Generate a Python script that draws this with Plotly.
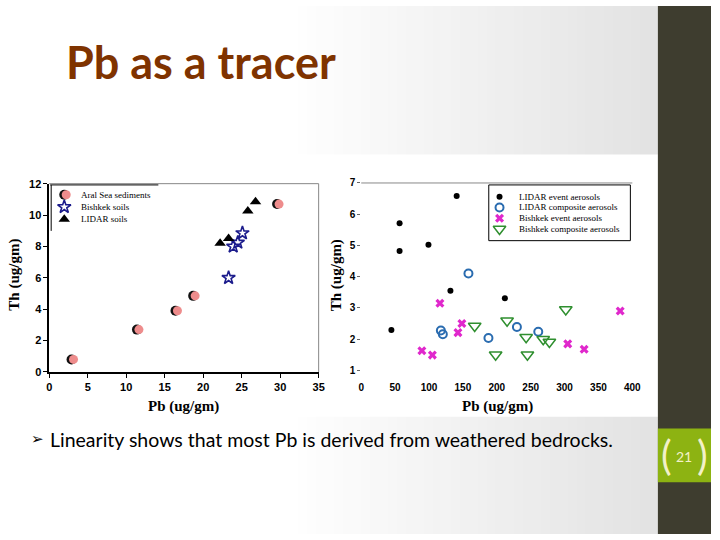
import plotly.graph_objects as go

# 左のグラフ: 土壌と堆積物
aral_pb = [2.9, 11.4, 16.4, 18.7, 29.6]
aral_th = [0.8, 2.7, 3.9, 4.85, 10.7]
bishkek_soil_pb = [23.3, 23.9, 24.5, 25.1]
bishkek_soil_th = [6.0, 8.0, 8.25, 8.85]
lidar_soil_pb = [22.2, 23.3, 25.8, 26.8]
lidar_soil_th = [8.2, 8.5, 10.25, 10.85]

# 右のグラフ: エアロゾル
lidar_event_pb = [44.5, 56.6, 56.6, 99.2, 131.6, 140.8, 211.9]
lidar_event_th = [2.29, 5.71, 4.82, 5.02, 3.55, 6.58, 3.31]
lidar_comp_pb = [117.5, 120.4, 158.2, 187.7, 229.7, 261.2]
lidar_comp_th = [2.28, 2.16, 4.10, 2.04, 2.39, 2.24]
bishkek_event_pb = [89.5, 105.0, 116.1, 142.7, 148.5, 304.7, 328.9, 382.1]
bishkek_event_th = [1.63, 1.49, 3.15, 2.21, 2.50, 1.85, 1.68, 2.90]
bishkek_comp_pb = [167.4, 198.3, 215.2, 243.3, 245.2, 268.5, 277.6, 301.8]
bishkek_comp_th = [2.42, 1.50, 2.59, 2.06, 1.50, 2.00, 1.91, 2.95]

left_names = ["Aral Sea sediments", "Bishkek soils", "LIDAR soils"]
right_names = ["LIDAR event aerosols", "LIDAR composite aerosols",
               "Bishkek event aerosols", "Bishkek composite aerosols"]

W, H = 720, 540


def px(x):
    return x / W


def py(y):
    return 1 - y / H


serif = "Liberation Serif"
sans = "Liberation Sans"

# マーカーのスタイル (Aral Sea は黒い円の上にピンクの円を少しずらして重ねる)
aral_back = dict(symbol="circle", size=10, color="#111111", line=dict(width=0))
aral_front = dict(symbol="circle", size=9, color="#ee8c8c", line=dict(width=0))
left_styles = [
    None,
    dict(symbol="star-open", size=10, color="#1c1c8c", line=dict(width=1.6)),
    dict(symbol="triangle-up", size=10, color="black", line=dict(width=0)),
]
right_styles = [
    dict(symbol="circle", size=6, color="black", line=dict(width=0)),
    dict(symbol="circle-open", size=8, color="#2a6cb0", line=dict(width=2)),
    dict(symbol="x", size=8, color="#e028cc", line=dict(width=0)),
    dict(symbol="triangle-down-open", size=11, color="#2f8f2f", line=dict(width=1.5)),
]

fig = go.Figure()

fig.add_trace(go.Scatter(x=aral_pb, y=aral_th, mode="markers", marker=aral_back,
                         xaxis="x", yaxis="y", showlegend=False))
fig.add_trace(go.Scatter(x=aral_pb, y=aral_th, mode="markers", marker=aral_front,
                         xaxis="x5", yaxis="y", showlegend=False))
left_data = [(bishkek_soil_pb, bishkek_soil_th), (lidar_soil_pb, lidar_soil_th)]
for (xs, ys), st in zip(left_data, left_styles[1:]):
    fig.add_trace(go.Scatter(x=xs, y=ys, mode="markers", marker=st,
                             xaxis="x", yaxis="y", showlegend=False))

right_data = [(lidar_event_pb, lidar_event_th), (lidar_comp_pb, lidar_comp_th),
              (bishkek_event_pb, bishkek_event_th), (bishkek_comp_pb, bishkek_comp_th)]
for (xs, ys), st in zip(right_data, right_styles):
    fig.add_trace(go.Scatter(x=xs, y=ys, mode="markers", marker=st,
                             xaxis="x2", yaxis="y2", showlegend=False))

# 凡例 (手書き)
annotations = []
fig.add_trace(go.Scatter(x=[0.13], y=[0], mode="markers", marker=aral_back,
                         xaxis="x3", yaxis="y3", showlegend=False))
fig.add_trace(go.Scatter(x=[0.148], y=[0], mode="markers", marker=aral_front,
                         xaxis="x3", yaxis="y3", showlegend=False))
for i, (name, st) in enumerate(zip(left_names, left_styles)):
    if st is not None:
        fig.add_trace(go.Scatter(x=[0.13], y=[i], mode="markers", marker=st,
                                 xaxis="x3", yaxis="y3", showlegend=False))
    annotations.append(dict(x=0.27, y=i, xref="x3", yref="y3", text=name, showarrow=False,
                            xanchor="left", yanchor="middle",
                            font=dict(family=serif, size=9, color="black")))
for i, (name, st) in enumerate(zip(right_names, right_styles)):
    fig.add_trace(go.Scatter(x=[0.076], y=[i], mode="markers", marker=st,
                             xaxis="x4", yaxis="y4", showlegend=False))
    annotations.append(dict(x=0.2, y=i, xref="x4", yref="y4", text=name, showarrow=False,
                            xanchor="left", yanchor="middle",
                            font=dict(family=serif, size=9, color="black")))


def label(x, y, text, size, family, color="black", **kw):
    a = dict(x=px(x), y=py(y), xref="paper", yref="paper", text=text, showarrow=False,
             xanchor="center", yanchor="middle", font=dict(family=family, size=size, color=color))
    a.update(kw)
    return a


# 文字
cream = "#f3f1c8"
annotations += [
    label(62, 57, "<b>Pb as a tracer</b>", 45, "Lato", "#7f3300", xanchor="left"),
    label(12, 275, "<b>Th (ug/gm)</b>", 15, serif, textangle=-90),
    label(340, 275, "<b>Th (ug/gm)</b>", 15, serif, textangle=-90),
    label(184, 410, "<b>Pb (ug/gm)</b>", 15, serif),
    label(503, 410, "<b>Pb (ug/gm)</b>", 15, serif),
    label(26, 443, "➢", 15, "DejaVu Sans", xanchor="left"),
    label(46, 443, "Linearity shows that most Pb is derived from weathered bedrocks.", 19.5,
          "Lato", xanchor="left"),
    label(693, 461, "21", 14, "Lato", cream),
    label(675, 459, "(", 40, "Lato", cream),
    label(711, 459, ")", 40, "Lato", cream),
]

# 背景のグラデーション
shapes = []
n = 40
x0, x1 = 300, 666
for k in range(n):
    g = int(255 - 28 * (k + 1) / n)
    shapes.append(dict(type="rect", xref="paper", yref="paper", layer="below",
                       x0=px(x0 + (x1 - x0) * k / n), x1=px(x0 + (x1 - x0) * (k + 1) / n + 1),
                       y0=0, y1=1, line=dict(width=0), fillcolor=f"rgb({g},{g},{g})"))
shapes += [
    dict(type="rect", xref="paper", yref="paper", layer="below", x0=0, x1=px(666),
         y0=py(420), y1=py(152), line=dict(width=0), fillcolor="white"),
    dict(type="rect", xref="paper", yref="paper", layer="below", x0=px(666), x1=1,
         y0=0, y1=1, line=dict(width=0), fillcolor="#3e3d2f"),
    dict(type="rect", xref="paper", yref="paper", layer="below", x0=px(666), x1=1,
         y0=py(487), y1=py(432), line=dict(width=0), fillcolor="#8db312"),
    # 左のグラフの枠
    dict(type="line", xref="x domain", yref="y domain", x0=0, x1=1, y0=1, y1=1,
         line=dict(color="#888888", width=1)),
    dict(type="line", xref="x domain", yref="y domain", x0=1, x1=1, y0=0, y1=1,
         line=dict(color="#888888", width=1)),
    dict(type="line", xref="paper", yref="paper", x0=px(48), x1=px(158), y0=py(183), y1=py(183),
         line=dict(color="black", width=1)),
    dict(type="line", xref="paper", yref="paper", x0=px(49), x1=px(49), y0=py(183), y1=py(230),
         line=dict(color="black", width=1)),
    # 右のグラフの上線と凡例枠
    dict(type="line", xref="x2 domain", yref="y2 domain", x0=0, x1=1, y0=1, y1=1,
         line=dict(color="#888888", width=1)),
    dict(type="rect", xref="paper", yref="paper", x0=px(494), x1=px(638), y0=py(240), y1=py(183),
         line=dict(color="black", width=1), fillcolor="rgba(0,0,0,0)"),
]

tick_l = dict(family=sans, size=11, color="black", weight="bold")
tick_r = dict(family=sans, size=10, color="black", weight="bold")

# 2px 右にずらした x 軸 (Aral Sea のピンク部分用)
shift = 35 / (321 - 47) * 2

fig.update_layout(
    width=W, height=H,
    margin=dict(l=0, r=0, t=0, b=0),
    paper_bgcolor="white",
    plot_bgcolor="rgba(0,0,0,0)",
    xaxis=dict(domain=[px(47), px(321)], range=[0, 35], dtick=5, showgrid=False, zeroline=False,
               showline=True, linecolor="black", linewidth=1.5, ticks="outside", ticklen=4,
               tickcolor="black", tickfont=tick_l, anchor="y"),
    yaxis=dict(domain=[py(374.3), py(181.7)], range=[0, 12], dtick=2, showgrid=False, zeroline=False,
               showline=True, linecolor="black", linewidth=1.5, ticks="outside", ticklen=4,
               tickcolor="black", tickfont=tick_l, anchor="x"),
    xaxis5=dict(domain=[px(47), px(321)], range=[-shift, 35 - shift], visible=False,
                overlaying="x", anchor="y"),
    xaxis2=dict(domain=[px(364.3), px(640)], range=[0, 400], dtick=50, showgrid=False, zeroline=False,
                showline=False, ticks="outside", ticklen=8, tickcolor="rgba(0,0,0,0)",
                tickfont=tick_r, anchor="y2"),
    yaxis2=dict(domain=[py(372.7), py(181)], range=[1, 7], dtick=1, showgrid=False, zeroline=False,
                showline=False, ticks="outside", ticklen=3, tickcolor="#666666",
                tickfont=tick_r, anchor="x2"),
    xaxis3=dict(domain=[px(48), px(158)], range=[0, 1], visible=False, anchor="y3"),
    yaxis3=dict(domain=[py(230), py(183)], range=[2.96, -0.8], visible=False, anchor="x3"),
    xaxis4=dict(domain=[px(494), px(638)], range=[0, 1], visible=False, anchor="y4"),
    yaxis4=dict(domain=[py(240), py(183)], range=[4.09, -1.09], visible=False, anchor="x4"),
    annotations=annotations,
    shapes=shapes,
)

# ページの余白をなくす
fig.write_html(
    "out.html",
    config={"displayModeBar": False},
    post_script="document.documentElement.style.margin='0';"
                "document.body.style.margin='0';"
                "var d=document.getElementById('{plot_id}');"
                "d.style.position='fixed';d.style.left='0px';d.style.top='0px';",
)
